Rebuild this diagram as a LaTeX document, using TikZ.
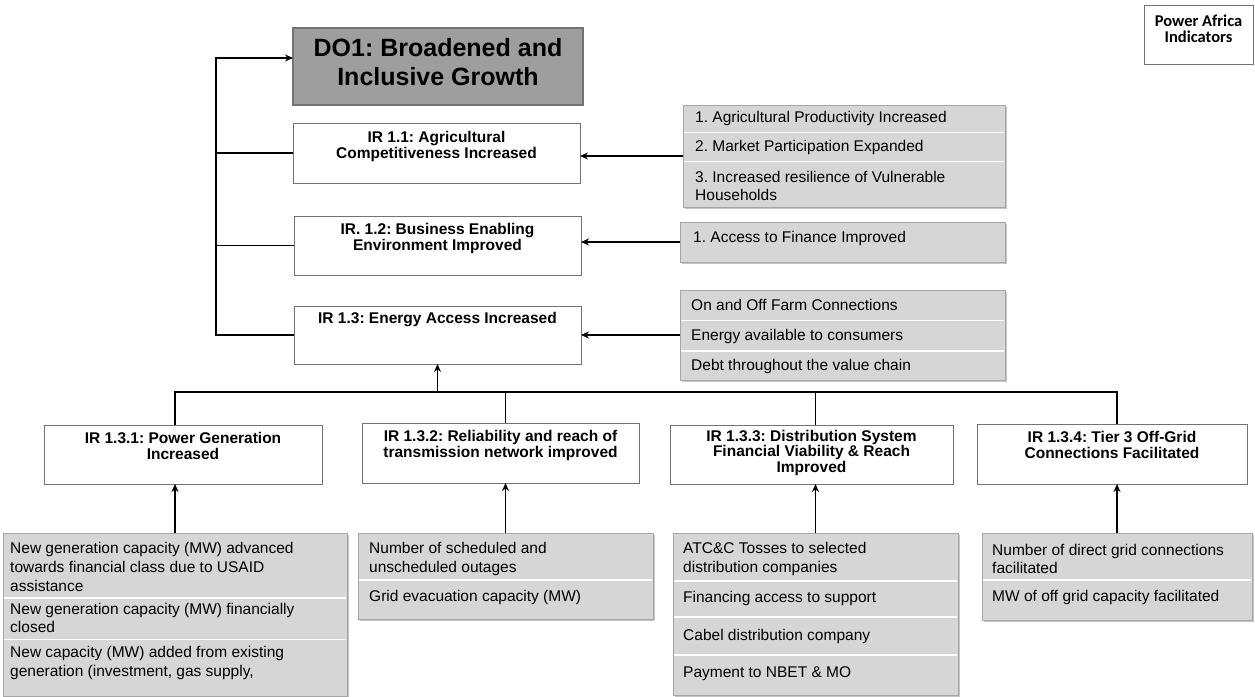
\documentclass[tikz,border=0pt]{standalone}
\usepackage{fontspec}
\setmainfont{Liberation Sans}
\newfontfamily\calib{Carlito}
\usetikzlibrary{arrows.meta,shadows}
\frenchspacing
\begin{document}
\frenchspacing
\begin{tikzpicture}[x=1pt,y=-1pt,
  dobox/.style={draw=black!55, line width=1.6pt, fill=black!38, inner sep=0, outer sep=0},
  dotext/.style={font=\bfseries\fontsize{25}{29}\selectfont, align=center, inner sep=0},
  irbox/.style={draw=black!55, line width=0.9pt, fill=white, inner sep=0, outer sep=0},
  ttl/.style={font=\bfseries\fontsize{15.5}{16.5}\selectfont, align=center, anchor=north, inner sep=0},
  indbox/.style={draw=black!35, line width=0.8pt, fill=black!16, inner sep=0, outer sep=0,
    drop shadow={shadow xshift=1.5pt, shadow yshift=-1.5pt, fill=black!45}},
  ind/.style={font=\fontsize{15.5}{18.5}\selectfont, align=left, anchor=west, inner sep=0},
  rowsep/.style={draw=white, line width=1.6pt},
  conn/.style={line width=1.8pt, draw=black},
  arr/.style={conn, -{Stealth[length=8pt,width=7pt]}}
]
\useasboundingbox (0,0) rectangle (1255,696);
\fill[white] (0,0) rectangle (1255,696);

% Power Africa legend
\node[irbox, minimum width=109, minimum height=59, anchor=north west] (pa) at (1144,5) {};
\node[ttl, font=\calib\bfseries\fontsize{16.5}{16}\selectfont] (pat) at ([yshift=-10pt]pa.north) {Power Africa\\Indicators};

% DO1
\node[dobox, minimum width=290, minimum height=77, anchor=north west] (do1) at (293,28) {};
\node[dotext] (do1t) at (438,62) {DO1: Broadened and\\Inclusive Growth};

% IR level 1
\node[irbox, minimum width=287, minimum height=60, anchor=north west] (ir11) at (293,123) {};
\node[ttl] (ir11t) at ([yshift=-8pt]ir11.north) {IR 1.1: Agricultural\\Competitiveness Increased};
\node[irbox, minimum width=287, minimum height=59, anchor=north west] (ir12) at (294,216) {};
\node[ttl] (ir12t) at ([yshift=-7pt]ir12.north) {IR. 1.2: Business Enabling\\Environment Improved};
\node[irbox, minimum width=287, minimum height=58, anchor=north west] (ir13) at (294,306) {};
\node[ttl] (ir13t) at ([yshift=-6pt]ir13.north) {IR 1.3: Energy Access Increased};

% top indicator boxes
\node[indbox, minimum width=322, minimum height=102, anchor=north west] (ind1) at (683,105) {};
\draw[rowsep] (684,132.5) -- (1004,132.5);
\draw[rowsep] (684,161.5) -- (1004,161.5);
\node[ind] (ind1a) at (695,118) {1. Agricultural Productivity Increased};
\node[ind] (ind1b) at (695,147) {2. Market Participation Expanded};
\node[ind] (ind1c) at (695,186) {3. Increased resilience of Vulnerable\\Households};

\node[indbox, minimum width=325, minimum height=40, anchor=north west] (ind2) at (680,222) {};
\node[ind] (ind2a) at (693,238) {1. Access to Finance Improved};

\node[indbox, minimum width=325, minimum height=90, anchor=north west] (ind3) at (680,290) {};
\draw[rowsep] (681,320.5) -- (1004,320.5);
\draw[rowsep] (681,351) -- (1004,351);
\node[ind] (ind3a) at (691,305) {On and Off Farm Connections};
\node[ind] (ind3b) at (691,336) {Energy available to consumers};
\node[ind] (ind3c) at (691,366) {Debt throughout the value chain};

% IR level 2
\node[irbox, minimum width=278, minimum height=59, anchor=north west] (ir131) at (44,425) {};
\node[ttl] (ir131t) at ([yshift=-7pt]ir131.north) {IR 1.3.1: Power Generation\\Increased};
\node[irbox, minimum width=277, minimum height=60, anchor=north west] (ir132) at (362,423) {};
\node[ttl] (ir132t) at ([yshift=-7pt]ir132.north) {IR 1.3.2: Reliability and reach of\\transmission network improved};
\node[irbox, minimum width=283, minimum height=59, anchor=north west] (ir133) at (670,425) {};
\node[ttl, font=\bfseries\fontsize{15.5}{15.5}\selectfont] (ir133t) at ([yshift=-5pt]ir133.north) {IR 1.3.3: Distribution System\\Financial Viability \& Reach\\Improved};
\node[irbox, minimum width=270, minimum height=60, anchor=north west] (ir134) at (977,424) {};
\node[ttl] (ir134t) at ([yshift=-7pt]ir134.north) {IR 1.3.4: Tier 3 Off-Grid\\Connections Facilitated};

% bottom indicator boxes
\node[indbox, minimum width=344, minimum height=163, anchor=north west] (bi1) at (3,533) {};
\draw[rowsep] (4,598) -- (346,598);
\draw[rowsep] (4,639.5) -- (346,639.5);
\node[ind, font=\fontsize{15.5}{19}\selectfont] (bi1a) at (10,567) {New generation capacity (MW) advanced\\towards financial class due to USAID\\assistance};
\node[ind] (bi1b) at (10,618) {New generation capacity (MW) financially\\closed};
\node[ind] (bi1c) at (10,663) {New capacity (MW) added from existing\\generation (investment, gas supply,};

\node[indbox, minimum width=295, minimum height=86, anchor=north west] (bi2) at (358,533) {};
\draw[rowsep] (359,580) -- (652,580);
\node[ind] (bi2a) at (369,559) {Number of scheduled and\\unscheduled outages};
\node[ind] (bi2b) at (369,597) {Grid evacuation capacity (MW)};

\node[indbox, minimum width=285, minimum height=162, anchor=north west] (bi3) at (673,533) {};
\draw[rowsep] (674,581) -- (957,581);
\draw[rowsep] (674,617) -- (957,617);
\draw[rowsep] (674,655) -- (957,655);
\node[ind] (bi3a) at (683,559) {ATC\&C Tosses to selected\\distribution companies};
\node[ind] (bi3b) at (683,598) {Financing access to support};
\node[ind] (bi3c) at (683,636) {Cabel distribution company};
\node[ind] (bi3d) at (683,674) {Payment to NBET \& MO};

\node[indbox, minimum width=270, minimum height=87, anchor=north west] (bi4) at (982,533) {};
\draw[rowsep] (983,580) -- (1251,580);
\node[ind] (bi4a) at (992,559) {Number of direct grid connections\\facilitated};
\node[ind] (bi4b) at (992,597) {MW of off grid capacity facilitated};

% connectors, upper part
\coordinate (lt) at (216,58);
\coordinate (lb) at (216,335);
\draw[conn, line join=miter] (ir13.west) -- (lb) -- (lt);
\draw[arr] ([xshift=-0.9pt]lt) -- (lt -| do1.west);
\draw[conn] (ir11.west) -- (ir11.west -| lb);
\draw[conn] (ir12.west) -- (ir12.west -| lb);
\draw[arr] (ind1.west) -- (ind1.west -| ir11.east);
\draw[arr] (ind2.west) -- (ind2.west -| ir12.east);
\draw[arr] (ind3.west) -- (ind3.west -| ir13.east);

% connectors, lower part
\coordinate (bus) at (437.5,392);
\draw[arr] (bus) -- (ir13.south);
\draw[conn] ([xshift=-0.9pt]bi1.north |- bus) -- ([xshift=0.9pt]bi4.north |- bus);
\draw[conn] (bi1.north |- bus) -- (bi1.north |- ir131.north);
\draw[conn] (bi2.north |- bus) -- (bi2.north |- ir132.north);
\draw[conn] (bi3.north |- bus) -- (bi3.north |- ir133.north);
\draw[conn] (bi4.north |- bus) -- (bi4.north |- ir134.north);
\draw[arr] (bi1.north) -- (bi1.north |- ir131.south);
\draw[arr] (bi2.north) -- (bi2.north |- ir132.south);
\draw[arr] (bi3.north) -- (bi3.north |- ir133.south);
\draw[arr] (bi4.north) -- (bi4.north |- ir134.south);
\end{tikzpicture}
\end{document}
